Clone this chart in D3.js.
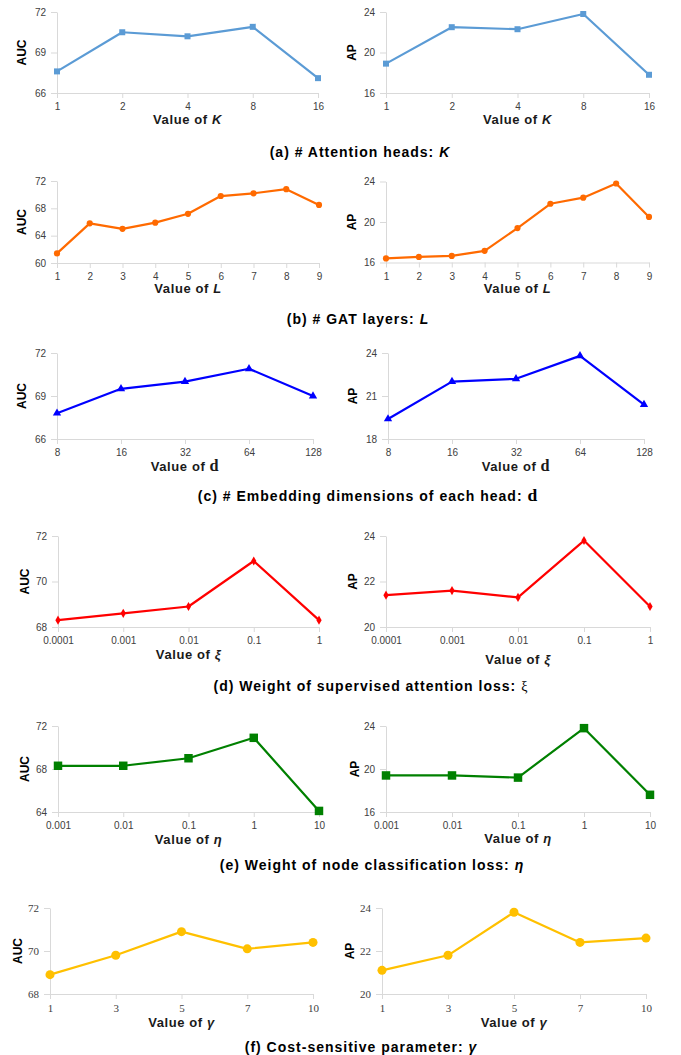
<!DOCTYPE html>
<html>
<head>
<meta charset="utf-8">
<script src="https://cdn.jsdelivr.net/npm/d3@7"></script>
<style>
  body { margin: 0; background: #fff; }
  svg { display: block; font-family: "Liberation Sans", Arial, sans-serif; }
</style>
</head>
<body>
<script>
// values
const kCats = ['1', '2', '4', '8', '16'];
const kAUC = [67.6, 70.5, 70.2, 70.9, 67.1];
const kAP = [18.9, 22.5, 22.3, 23.8, 17.8];

const lCats = ['1', '2', '3', '4', '5', '6', '7', '8', '9'];
const lAUC = [61.4, 65.8, 65.0, 65.9, 67.2, 69.8, 70.2, 70.8, 68.5];
const lAP = [16.4, 16.55, 16.65, 17.15, 19.4, 21.8, 22.4, 23.8, 20.5];

const dCats = ['8', '16', '32', '64', '128'];
const dAUC = [67.8, 69.5, 70.0, 70.9, 69.0];
const dAP = [19.4, 22.0, 22.2, 23.8, 20.4];

const xiCats = ['0.0001', '0.001', '0.01', '0.1', '1'];
const xiAUC = [68.3, 68.6, 68.9, 70.9, 68.3];
const xiAP = [21.4, 21.6, 21.3, 23.8, 20.9];

const etaCats = ['0.001', '0.01', '0.1', '1', '10'];
const etaAUC = [68.3, 68.3, 69.0, 70.9, 64.1];
const etaAP = [19.4, 19.4, 19.2, 23.8, 17.6];

const gammaCats = ['1', '3', '5', '7', '10'];
const gammaAUC = [68.9, 69.8, 70.9, 70.1, 70.4];
const gammaAP = [21.1, 21.8, 23.8, 22.4, 22.6];

// y ticks per panel
const kAucTicks = [66, 69, 72], kApTicks = [16, 20, 24];
const lAucTicks = [60, 64, 68, 72], lApTicks = [16, 20, 24];
const dAucTicks = [66, 69, 72], dApTicks = [18, 21, 24];
const xiAucTicks = [68, 70, 72], xiApTicks = [20, 22, 24];
const etaAucTicks = [64, 68, 72], etaApTicks = [16, 20, 24];
const gammaAucTicks = [68, 70, 72], gammaApTicks = [20, 22, 24];

const captions = [
  ['(a) # Attention heads: ', 'K'],
  ['(b) # GAT layers: ', 'L'],
  ['(c) # Embedding dimensions of each head: ', 'd'],
  ['(d) Weight of supervised attention loss: ', 'ξ'],
  ['(e) Weight of node classification loss: ', 'η'],
  ['(f) Cost-sensitive parameter: ', 'γ']
];

const W = 681, H = 1055;
const svg = d3.select('body').append('svg').attr('width', W).attr('height', H);

// row styles
const rows = [
  { cats: kCats, auc: kAUC, ap: kAP, at: kAucTicks, pt: kApTicks, color: '#5b9bd5',
    sym: d3.symbolSquare, size: 36, v: 'K', vstyle: 'it', serif: false,
    L: [57, 318, 12, 93, 22, 31], R: [386, 649, 12, 93, 352, 31], cap: [360, 157] },
  { cats: lCats, auc: lAUC, ap: lAP, at: lAucTicks, pt: lApTicks, color: '#ff6a00',
    sym: d3.symbolCircle, size: 30, v: 'L', vstyle: 'it', serif: false,
    L: [57, 319, 181, 263, 22, 30], R: [386, 649, 181.5, 262.5, 352, 30], cap: [358, 324] },
  { cats: dCats, auc: dAUC, ap: dAP, at: dAucTicks, pt: dApTicks, color: '#0000ff',
    sym: d3.symbolTriangle, size: 30, v: 'd', vstyle: 'blk', serif: false,
    L: [57, 313, 353, 439, 22, 32], R: [388, 644, 353, 439, 353, 32], cap: [368, 501] },
  { cats: xiCats, auc: xiAUC, ap: xiAP, at: xiAucTicks, pt: xiApTicks, color: '#ff0000',
    sym: d3.symbolDiamond, size: 24, v: 'ξ', vstyle: 'it', serif: false,
    L: [58, 319, 536, 627, 25, 32], R: [386, 650, 536, 627, 353, 37], cap: [371, 691] },
  { cats: etaCats, auc: etaAUC, ap: etaAP, at: etaAucTicks, pt: etaApTicks, color: '#008000',
    sym: d3.symbolSquare, size: 72, v: 'η', vstyle: 'it', serif: false,
    L: [58, 319, 726, 812, 25, 32], R: [386, 650, 726, 812, 355, 31], cap: [372, 870] },
  { cats: gammaCats, auc: gammaAUC, ap: gammaAP, at: gammaAucTicks, pt: gammaApTicks, color: '#ffc000',
    sym: d3.symbolCircle, size: 64, v: 'γ', vstyle: 'it', serif: true,
    L: [50, 313, 908, 994, 18, 33], R: [382, 646, 908, 994, 350, 33], cap: [361, 1052] }
];

function addVar(txt, v, style) {
  if (style === 'blk') {
    txt.append('tspan').attr('font-family', '"Liberation Serif", serif')
      .attr('font-weight', 'bold').attr('font-size', '1.25em').text(v);
  } else {
    txt.append('tspan').attr('font-style', 'italic').attr('font-weight', 'bold').text(v);
  }
}

function drawPanel(row, box, values, ticks, title) {
  const [x0, x1, y0, y1, tx, ly] = box;
  const x = d3.scalePoint().domain(row.cats).range([x0, x1]).padding(0);
  const y = d3.scaleLinear().domain(d3.extent(ticks)).range([y1, y0]);
  const tickFont = row.serif ? '"Liberation Serif", serif' : '"Liberation Sans", Arial, sans-serif';
  const tickSize = row.serif ? '11px' : '10px';

  const g = svg.append('g');

  const xa = g.append('g').attr('transform', `translate(0,${y1})`)
    .call(d3.axisBottom(x).tickSize(5).tickPadding(5).tickSizeOuter(0));
  const ya = g.append('g').attr('transform', `translate(${x0},0)`)
    .call(d3.axisLeft(y).tickValues(ticks).tickFormat(d3.format('d'))
      .tickSize(6).tickPadding(5).tickSizeOuter(0));
  [xa, ya].forEach(a => {
    a.select('.domain').attr('stroke', '#d9d9d9');
    a.selectAll('.tick line').attr('stroke', '#d9d9d9');
    a.selectAll('.tick text').attr('fill', '#404040')
      .attr('font-family', tickFont).attr('font-size', tickSize);
  });

  const line = d3.line().x((d, i) => x(row.cats[i])).y(d => y(d));
  g.append('path').datum(values)
    .attr('fill', 'none').attr('stroke', row.color).attr('stroke-width', 2.2)
    .attr('stroke-linejoin', 'round')
    .attr('d', line);

  g.selectAll('.pt').data(values).join('path')
    .attr('class', 'pt')
    .attr('transform', (d, i) => `translate(${x(row.cats[i])},${y(d)})`)
    .attr('d', d3.symbol().type(row.sym).size(row.size))
    .attr('fill', row.color);

  // axis titles
  g.append('text')
    .attr('transform', `translate(${tx},${(y0 + y1) / 2}) rotate(-90)`)
    .attr('text-anchor', 'middle').attr('dy', '0.35em')
    .attr('font-size', '12px').attr('font-weight', 'bold').attr('fill', '#000')
    .text(title);

  const xl = g.append('text')
    .attr('x', (x0 + x1) / 2).attr('y', y1 + ly)
    .attr('text-anchor', 'middle')
    .attr('font-size', '13px').attr('letter-spacing', '0.6px')
    .attr('font-weight', 'bold').attr('fill', '#1a1a1a');
  xl.append('tspan').text('Value of ');
  addVar(xl, row.v, row.vstyle);
}

rows.forEach((row, i) => {
  drawPanel(row, row.L, row.auc, row.at, 'AUC');
  drawPanel(row, row.R, row.ap, row.pt, 'AP');
  const c = svg.append('text')
    .attr('x', row.cap[0]).attr('y', row.cap[1])
    .attr('text-anchor', 'middle')
    .attr('font-size', '14px').attr('letter-spacing', '1px')
    .attr('font-weight', 'bold').attr('fill', '#000');
  c.append('tspan').text(captions[i][0]);
  if (i === 3) {
    c.append('tspan').attr('font-weight', 'normal').attr('font-family', '"Liberation Serif", serif').text(captions[i][1]);
  } else {
    addVar(c, captions[i][1], row.vstyle);
  }
});
</script>
</body>
</html>
